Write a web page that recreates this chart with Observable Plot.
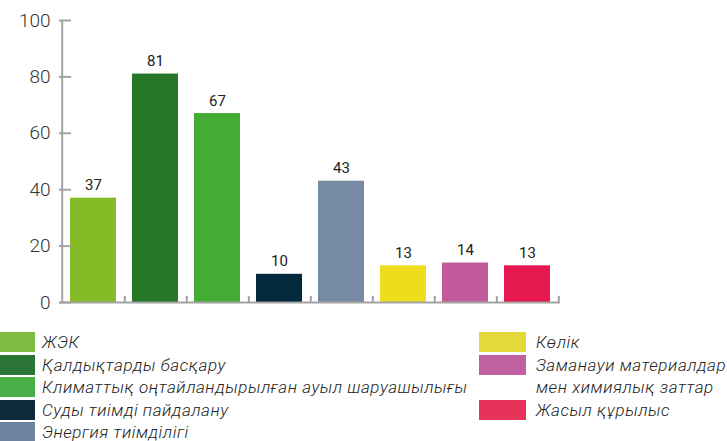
<!DOCTYPE html>
<html>
<head>
<meta charset="utf-8">
<script src="https://cdn.jsdelivr.net/npm/d3@7"></script>
<script src="https://cdn.jsdelivr.net/npm/@observablehq/plot@0.6"></script>
<style>
  html, body { margin: 0; padding: 0; background: #fff; }
  body { width: 727px; height: 441px; overflow: hidden; font-family: Roboto, "Noto Sans", sans-serif; }
  #legend { position: relative; width: 727px; height: 123px; overflow: hidden; }
  .sw { position: absolute; width: 47px; height: 20px; }
  .lb { position: absolute; font-size: 17px; letter-spacing: 0.55px; font-style: italic; font-weight: 300; color: #222; line-height: 22.6px; white-space: nowrap; }
</style>
</head>
<body>
<div id="chart"></div>
<div id="legend"></div>
<script>
const categories = [
  "ЖЭК",
  "Қалдықтарды басқару",
  "Климаттық оңтайландырылған ауыл шаруашылығы",
  "Суды тиімді пайдалану",
  "Энергия тиімділігі",
  "Көлік",
  "Заманауи материалдар мен химиялық заттар",
  "Жасыл құрылыс"
];
const values = [37, 81, 67, 10, 43, 13, 14, 13];
const barColors = ["#85bb27", "#267726", "#44ac34", "#03293c", "#768ba3", "#eddd1c", "#c15a9b", "#e61850"];
const legendColors = ["#7dbd44", "#2a7535", "#4aae47", "#0c2a3a", "#6e83a0", "#e5d83a", "#c160a0", "#e53359"];
const yTicks = [0, 20, 40, 60, 80, 100];
const leftLegend = [0, 1, 2, 3, 4];
const rightLegend = [5, 6, 7];

const data = categories.map((c, i) => ({cat: c, value: values[i]}));

const W = 727, H = 318, mL = 59, mR = 167, mT = 20, mB = 16;
const innerW = W - mL - mR, innerH = H - mT - mB;
const step = innerW / categories.length;
const pad = 0.265;
const axisColor = "#a3a3a3";

const chart = Plot.plot({
  width: W, height: H,
  marginLeft: mL, marginRight: mR, marginTop: mT, marginBottom: mB,
  style: {fontFamily: "Roboto, 'Noto Sans', sans-serif", background: "#fff", overflow: "visible"},
  x: {domain: categories, paddingInner: pad, paddingOuter: pad / 2, axis: null},
  y: {domain: [0, 100], axis: null},
  color: {domain: categories, range: barColors},
  marks: [
    Plot.barY(data, {x: "cat", y: "value", fill: "cat"}),
    Plot.ruleY([0], {stroke: axisColor, strokeWidth: 2}),
    Plot.ruleX([categories[0]], {dx: -step / 2, stroke: axisColor, strokeWidth: 2}),
    Plot.ruleY(yTicks, {y: d => d, insetRight: innerW - 12, stroke: axisColor, strokeWidth: 2}),
    Plot.ruleX(categories, {x: d => d, dx: step / 2, insetTop: innerH - 6, stroke: axisColor, strokeWidth: 2}),
    Plot.axisY({ticks: yTicks, tickSize: 0, tickPadding: 9, fontSize: 19, fontWeight: 300, fill: "#333", label: null}),
    Plot.text(data, {x: "cat", y: "value", text: d => String(d.value), dy: -8, lineAnchor: "bottom", fontSize: 15, fontWeight: 400, fill: "#222"})
  ]
});
document.getElementById("chart").appendChild(chart);

const legend = document.getElementById("legend");
const rowTop = 14, rowStep = 22.6;
function addItem(idx, row, swLeft, textLeft, maxW) {
  const sw = document.createElement("div");
  sw.className = "sw";
  sw.style.left = swLeft + "px";
  sw.style.top = (rowTop + row * rowStep) + "px";
  sw.style.background = legendColors[idx];
  legend.appendChild(sw);
  const lb = document.createElement("div");
  lb.className = "lb";
  lb.style.left = textLeft + "px";
  lb.style.top = (rowTop + row * rowStep - 1) + "px";
  if (maxW) { lb.style.whiteSpace = "normal"; lb.style.width = maxW + "px"; }
  lb.textContent = categories[idx];
  legend.appendChild(lb);
}
leftLegend.forEach((idx, r) => addItem(idx, r, -12, 42));
let r = 0;
rightLegend.forEach(idx => {
  addItem(idx, r, 479, 536, 191);
  r += categories[idx].length > 25 ? 2 : 1;
});
</script>
</body>
</html>
